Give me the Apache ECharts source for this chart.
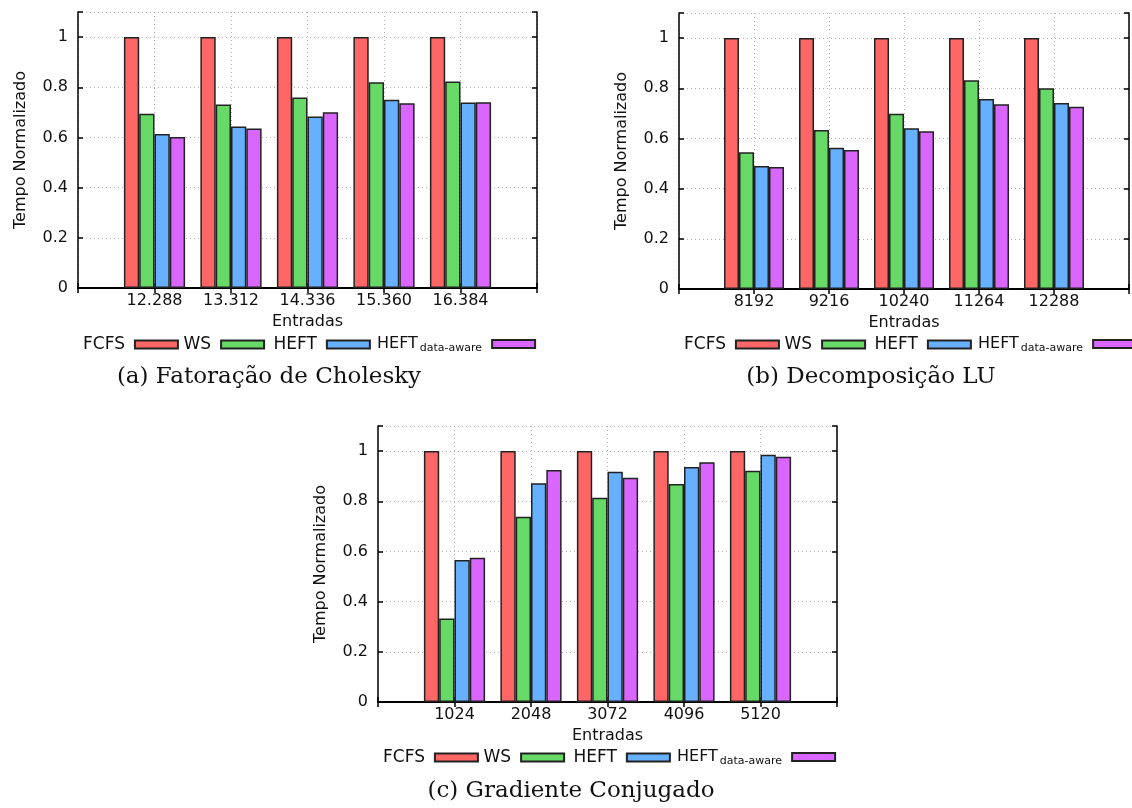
<!DOCTYPE html>
<html>
<head>
<meta charset="utf-8">
<script src="https://cdn.jsdelivr.net/npm/echarts@6/dist/echarts.min.js"></script>
<style>
  html, body { margin: 0; padding: 0; background: #fff; }
  #chart { width: 1132px; height: 808px; }
</style>
</head>
<body>
<div id="chart"></div>
<script>
// ---------- data ----------
const seriesNames = ['FCFS', 'WS', 'HEFT', 'HEFT data-aware'];
const seriesColors = ['#ff6666', '#66d966', '#66b0ff', '#d966ff'];

const choleskyCategories = ['12.288', '13.312', '14.336', '15.360', '16.384'];
const choleskyFCFS = [1, 1, 1, 1, 1];
const choleskyWS = [0.694, 0.731, 0.759, 0.820, 0.823];
const choleskyHEFT = [0.614, 0.644, 0.684, 0.750, 0.739];
const choleskyHEFTDataAware = [0.602, 0.636, 0.700, 0.736, 0.740];

const luCategories = ['8192', '9216', '10240', '11264', '12288'];
const luFCFS = [1, 1, 1, 1, 1];
const luWS = [0.545, 0.634, 0.698, 0.832, 0.800];
const luHEFT = [0.490, 0.563, 0.641, 0.757, 0.741];
const luHEFTDataAware = [0.486, 0.554, 0.629, 0.736, 0.726];

const cgCategories = ['1024', '2048', '3072', '4096', '5120'];
const cgFCFS = [1, 1, 1, 1, 1];
const cgWS = [0.333, 0.738, 0.814, 0.869, 0.922];
const cgHEFT = [0.566, 0.872, 0.918, 0.937, 0.985];
const cgHEFTDataAware = [0.575, 0.925, 0.894, 0.956, 0.977];

const yTicks = [0, 0.2, 0.4, 0.6, 0.8, 1];
const yAxisTitle = 'Tempo Normalizado';
const xAxisTitle = 'Entradas';
const captions = ['(a) Fatoração de Cholesky', '(b) Decomposição LU', '(c) Gradiente Conjugado'];

// ---------- layout ----------
const SANS = 'DejaVu Sans';
const SERIF = 'DejaVu Serif';
const panels = [
  { cats: choleskyCategories, vals: [choleskyFCFS, choleskyWS, choleskyHEFT, choleskyHEFTDataAware],
    left: 78, top: 12, legendTop: 336, capX: 269, capY: 377 },
  { cats: luCategories, vals: [luFCFS, luWS, luHEFT, luHEFTDataAware],
    left: 679, top: 13, legendTop: 336, capX: 871, capY: 377 },
  { cats: cgCategories, vals: [cgFCFS, cgWS, cgHEFT, cgHEFTDataAware],
    left: 378, top: 426, legendTop: 749, capX: 571, capY: 791 }
];
const legendOffsets = [5, 105.5, 195.5, 299];
const W = 459, H = 276;

const grid = [], xAxis = [], yAxis = [], series = [], legend = [], graphic = [];
const fmtY = v => String(+(+v).toFixed(1));
const gridLine = { show: true, lineStyle: { color: '#b4b4b4', width: 1, type: [1, 3] } };
const txt = { fontFamily: SANS, fontSize: 16, color: '#111' };
const legendRich = {
  h: { fontFamily: SANS, fontSize: 17, color: '#111', lineHeight: 20, padding: [0, 5, 0, 0] },
  h2: { fontFamily: SANS, fontSize: 16, color: '#111', lineHeight: 20, padding: [0, 2, 0, 0] },
  s: { fontFamily: SANS, fontSize: 11, color: '#111', lineHeight: 18, verticalAlign: 'bottom', padding: [0, 5, 0, 0] }
};

panels.forEach((p, i) => {
  grid.push({ left: p.left, top: p.top, width: W, height: H });
  const padded = [''].concat(p.cats, ['']);
  xAxis.push({
    type: 'category', gridIndex: i, data: padded, boundaryGap: false,
    axisLine: { show: true, lineStyle: { color: '#000', width: 2 } },
    axisTick: { show: true, inside: true, length: 5, lineStyle: { color: '#000', width: 1.5 } },
    axisLabel: Object.assign({ margin: 5, interval: 0 }, txt),
    splitLine: gridLine,
    name: xAxisTitle, nameLocation: 'middle', nameGap: 26,
    nameTextStyle: txt
  });
  xAxis.push({
    type: 'category', gridIndex: i, data: padded, boundaryGap: false, position: 'top',
    axisLine: { show: true, lineStyle: { color: '#000', width: 1.5 } },
    axisTick: { show: true, inside: true, length: 5, lineStyle: { color: '#000', width: 1.5 } },
    axisLabel: { show: false }, splitLine: { show: false }
  });
  yAxis.push({
    type: 'value', gridIndex: i, min: 0, max: 1.1, interval: 0.2,
    axisLine: { show: true, lineStyle: { color: '#000', width: 1.5 } },
    axisTick: { show: true, inside: true, length: 5, lineStyle: { color: '#000', width: 1.5 } },
    axisLabel: Object.assign({ margin: 10, formatter: fmtY, customValues: yTicks }, txt),
    splitLine: gridLine,
    name: yAxisTitle, nameLocation: 'middle', nameGap: 49, nameRotate: 90,
    nameTextStyle: txt
  });
  yAxis.push({
    type: 'value', gridIndex: i, min: 0, max: 1.1, interval: 0.2, position: 'right',
    axisLine: { show: true, lineStyle: { color: '#000', width: 1.5 } },
    axisTick: { show: true, inside: true, length: 5, lineStyle: { color: '#000', width: 1.5 } },
    axisLabel: { show: false }, splitLine: { show: false }
  });
  seriesNames.forEach((name, s) => {
    series.push({
      type: 'bar', name: name,
      xAxisIndex: 2 * i, yAxisIndex: 2 * i,
      data: ['-'].concat(p.vals[s], ['-']),
      barGap: '0%', barCategoryGap: '20%',
      itemStyle: { color: seriesColors[s], borderColor: '#222', borderWidth: 1.5 },
      emphasis: { disabled: true },
      animation: false
    });
    legend.push({
      left: p.left + legendOffsets[s], top: p.legendTop, padding: 0, orient: 'horizontal',
      align: 'right', icon: 'rect', itemWidth: 43, itemHeight: 8, itemGap: 0,
      data: [name], selectedMode: false,
      formatter: function (n) {
        if (n === 'HEFT data-aware') return '{h2|HEFT}{s|data-aware}';
        return '{h|' + n + '}';
      },
      textStyle: { rich: legendRich }
    });
  });
  graphic.push({
    type: 'text', x: p.capX, y: p.capY,
    style: { text: captions[i], font: '23px "' + SERIF + '"', fill: '#111',
      textAlign: 'center', textVerticalAlign: 'middle' }
  });
});

const chart = echarts.init(document.getElementById('chart'), null, { renderer: 'canvas' });
chart.setOption({
  animation: false,
  backgroundColor: '#fff',
  grid, xAxis, yAxis, series, legend, graphic
});
</script>
</body>
</html>
